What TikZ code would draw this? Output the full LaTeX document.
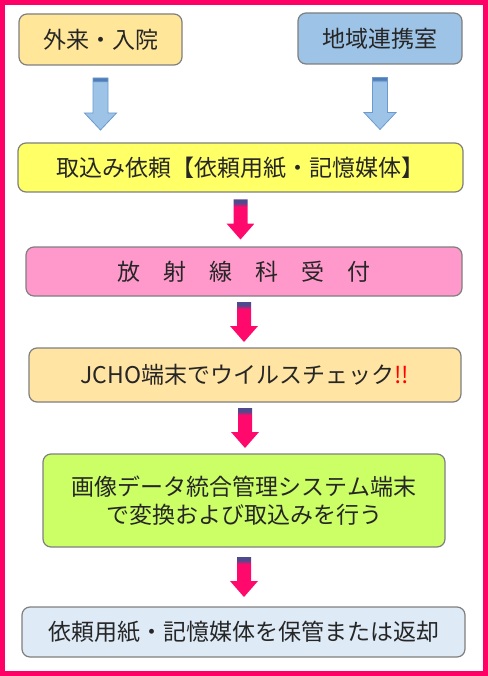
\documentclass[tikz,border=0pt]{standalone}
\usepackage{fontspec}
\setmainfont{Noto Sans CJK JP}
\usetikzlibrary{calc}

\definecolor{framepink}{HTML}{FF0066}
\definecolor{boxline}{HTML}{7F7F7F}
\definecolor{textgray}{HTML}{262626}
\definecolor{fillorange}{HTML}{FFE699}
\definecolor{fillblue}{HTML}{9DC3E6}
\definecolor{fillyellow}{HTML}{FFFF66}
\definecolor{fillpink}{HTML}{FF99CC}
\definecolor{fillcream}{HTML}{FFE4A3}
\definecolor{filllime}{HTML}{CCFF66}
\definecolor{filllight}{HTML}{DEEBF7}
\definecolor{flowpink}{HTML}{FF0A6C}
\definecolor{flowcap}{HTML}{4F4A8C}
\definecolor{flowblue}{HTML}{9DC3E6}
\definecolor{flowbluecap}{HTML}{4F7DB8}
\definecolor{flowblueline}{HTML}{6C9AD0}

\pgfdeclareverticalshading{pinkflow}{100bp}{color(0bp)=(flowpink); color(66bp)=(flowpink); color(71bp)=(flowcap); color(100bp)=(flowcap)}
\pgfdeclareverticalshading{blueflow}{100bp}{color(0bp)=(flowblue); color(71bp)=(flowblue); color(72.5bp)=(flowbluecap); color(100bp)=(flowbluecap)}

% block arrow half way between two boxes
% #1 style, #2 upper box, #3 lower box, #4 half length, #5 half shaft, #6 half head, #7 head length
\newcommand{\flowarrow}[7]{%
  \path[#1] let \p1=(#2.south), \p2=($(#2.south)!.5!(#3.north)$) in
    (\x1-#5,\y2+#4) -- (\x1+#5,\y2+#4) -- (\x1+#5,\y2-#4+#7) -- (\x1+#6,\y2-#4+#7)
    -- (\x1,\y2-#4) -- (\x1-#6,\y2-#4+#7) -- (\x1-#5,\y2-#4+#7) -- cycle;}

\begin{document}
\begin{tikzpicture}[x=1pt,y=-1pt,node font=\fontsize{23}{28}\selectfont,
    pinkarrow/.style={shading=pinkflow},
    bluearrow/.style={shading=blueflow,draw=flowblueline,line width=0.8pt}]
	\tikzstyle{phase}=[draw=boxline,line width=1.2pt,rounded corners=8pt,inner sep=0pt,text=textgray,align=center]
	
	\useasboundingbox (0,0) rectangle (487,676);
	\draw[framepink,line width=5pt] (2.5,2.5) rectangle (485,673.5);
	
	\node[phase,fill=fillorange,minimum width=163pt,minimum height=51pt] (OPD)      at (100.5,39.5) {外来・入院};
	\node[phase,fill=fillblue,minimum width=164pt,minimum height=51pt]   (liaison)  at (380,38.5)   {地域連携室};
	\node[phase,fill=fillyellow,minimum width=445pt,minimum height=49pt] (request)  at (240.5,167.5) {取込み依頼【依頼用紙・記憶媒体】};
	\node[phase,fill=fillpink,minimum width=436pt,minimum height=49pt]   (reception) at (244,271.5) {放　射　線　科　受　付};
	\node[phase,fill=fillcream,minimum width=432pt,minimum height=54pt]  (viruscheck) at (245,375)  {JCHO端末でウイルスチェック\textcolor{red}{!!}};
	\node[phase,fill=filllime,minimum width=402pt,minimum height=93pt]   (import)   at (244,500.5)  {画像データ統合管理システム端末\\で変換および取込みを行う};
	\node[phase,fill=filllight,minimum width=443pt,minimum height=50pt]  (storage)  at (243.5,632)  {依頼用紙・記憶媒体を保管または返却};
	
	\flowarrow{bluearrow}{OPD}{request}{26pt}{7.5pt}{16pt}{17pt}
	\flowarrow{bluearrow}{liaison}{request}{26pt}{7.5pt}{16pt}{17pt}
	\flowarrow{pinkarrow}{request}{reception}{20pt}{7pt}{14pt}{16pt}
	\flowarrow{pinkarrow}{reception}{viruscheck}{20pt}{7pt}{14pt}{16pt}
	\flowarrow{pinkarrow}{viruscheck}{import}{20pt}{7pt}{14pt}{16pt}
	\flowarrow{pinkarrow}{import}{storage}{20pt}{7pt}{14pt}{16pt}
\end{tikzpicture}
\end{document}
